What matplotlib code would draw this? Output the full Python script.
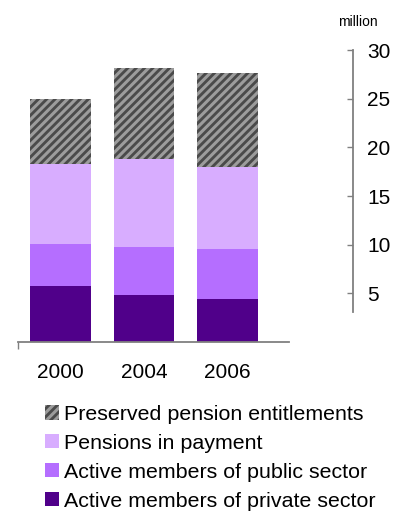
import matplotlib
matplotlib.use("Agg")
import matplotlib.pyplot as plt
import numpy as np

plt.rcParams['font.family'] = ['Liberation Sans', 'DejaVu Sans']
plt.rcParams['hatch.linewidth'] = 2.2

years = ['2000', '2004', '2006']
private_sector = [5.75, 4.83, 4.41]
public_sector = [4.31, 4.92, 5.14]
pensions_in_payment = [8.21, 9.05, 8.42]
preserved = [6.73, 9.30, 9.63]

series = [
    ('Active members of private sector', private_sector, '#50008a', None),
    ('Active members of public sector', public_sector, '#b56eff', None),
    ('Pensions in payment', pensions_in_payment, '#d8adff', None),
    ('Preserved pension entitlements', preserved, '#4a4a4a', '////'),
]

W, H = 396, 513
fig = plt.figure(figsize=(W / 100, H / 100), dpi=100)
ax = fig.add_axes([18 / W, (H - 342) / H, (353 - 18) / W, (342 - 50) / H])

x = np.arange(len(years))
bottom = np.zeros(len(years))
handles = []
for label, vals, color, hatch in series:
    edge = '#9c9c9c' if hatch else color
    b = ax.bar(x, vals, width=0.73, bottom=bottom, color=color,
               hatch=hatch, edgecolor=edge, linewidth=0, label=label)
    handles.append(b)
    bottom += np.array(vals)

ax.set_xlim(-0.509, 3.503)
ax.set_ylim(0, 30)

for side in ('top', 'left'):
    ax.spines[side].set_visible(False)
ax.spines['right'].set_color('#808080')
ax.spines['bottom'].set_color('#808080')
ax.spines['right'].set_linewidth(1.3)
ax.spines['bottom'].set_linewidth(1.3)
ax.spines['right'].set_bounds(3.1, 30)
ax.spines['bottom'].set_bounds(-0.509, 2.737)

ax.yaxis.tick_right()
ax.set_yticks([5, 10, 15, 20, 25, 30])
ax.tick_params(axis='y', direction='in', length=4, width=1.0, color='#808080',
               labelsize=15, pad=10)

ax.set_xticks(x)
ax.set_xticklabels(years)
ax.tick_params(axis='x', which='major', length=0, labelsize=15, pad=15)
ax.set_xticks([-0.509], minor=True)
ax.tick_params(axis='x', which='minor', length=5, width=1.0, color='#808080',
               direction='out')

fig.text(358 / W, 1 - 22 / H, 'million', ha='center', va='center', fontsize=10)

leg = fig.legend(handles[::-1], [s[0] for s in series][::-1],
                 loc='upper left', bbox_to_anchor=(45 / W, 1 - 405 / H),
                 frameon=False, fontsize=15.4, borderpad=0, borderaxespad=0,
                 handlelength=0.65, handleheight=0.65, handletextpad=0.25,
                 labelspacing=0.46)

fig.savefig('out.png', dpi=100)
